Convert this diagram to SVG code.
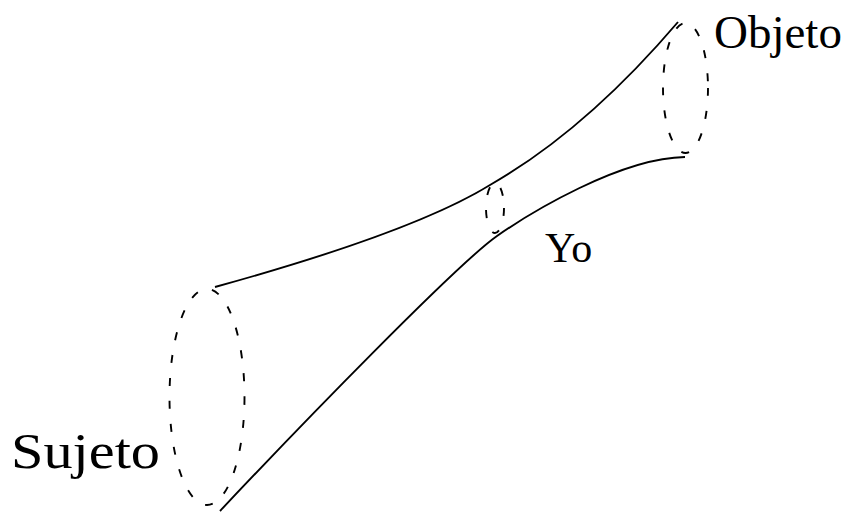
<svg xmlns="http://www.w3.org/2000/svg" width="848" height="514" viewBox="0 0 848 514">
<style>
.curve{fill:none;stroke:#000;stroke-width:1.9}
.ring{fill:none;stroke:#000;stroke-width:1.9;stroke-dasharray:8,15}
.lbl{font-family:"Liberation Serif","Times New Roman",serif;fill:#000}
</style>
<rect width="848" height="514" fill="#fff"/>
<g id="connectors">
<path class="curve" d="M215,287 C320,258 430,222 490,185 C560,145 620,90 678,22"/>
<path class="curve" d="M220,511 C300,426 457,264 497,236 C530,213 620,158 685,157"/>
</g>
<g id="sujeto">
<ellipse class="ring" cx="207" cy="397" rx="37.5" ry="108"/>
<text class="lbl" x="11" y="468" font-size="50" textLength="149" lengthAdjust="spacingAndGlyphs">Sujeto</text>
</g>
<g id="yo">
<ellipse class="ring" cx="495" cy="208" rx="9" ry="25"/>
<text class="lbl" x="545" y="262" font-size="42">Yo</text>
</g>
<g id="objeto">
<ellipse class="ring" cx="685.5" cy="88" rx="22.5" ry="65"/>
<text class="lbl" x="714" y="48" font-size="47">Objeto</text>
</g>
</svg>
